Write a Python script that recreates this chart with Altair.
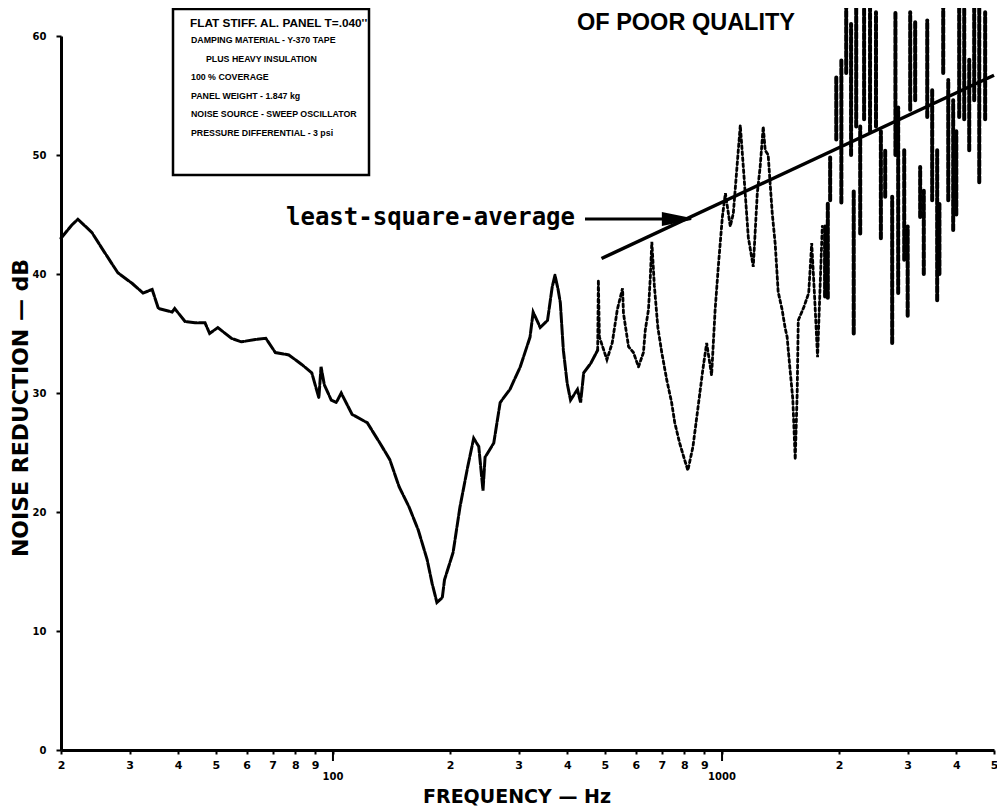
import altair as alt
import pandas as pd

# ---------------- data ----------------
# continuous part of the trace (Hz, dB)
freq = [20, 21.3, 22.1, 24.0, 25.9, 28.0, 30.5, 32.5, 34.3, 35.6, 38.6, 39.2, 41.7, 44.2,
        46.9, 48.2, 50.6, 54.8, 58.1, 63.2, 67.2, 71.1, 77.0, 83.1, 88.2, 92.0, 93.2, 95.0,
        99.0, 102, 105, 112, 122.5, 132, 140, 148, 157, 165.6, 174.6, 179.8, 185, 191,
        193.5, 203.6, 212, 222, 230, 237, 243, 246, 259, 269, 285, 303, 321, 327, 341, 356,
        366, 372, 379, 384, 391, 400, 408, 425, 433, 441, 460, 479, 481, 484, 506, 522, 538,
        555, 558, 575, 592, 610, 628, 635, 647, 654, 660, 670, 684, 700, 721, 742, 756, 778,
        801, 817, 842, 866, 892, 913, 940, 960, 978, 1002, 1020, 1050, 1069, 1114, 1140,
        1168, 1203, 1232, 1253, 1276, 1291, 1314, 1330, 1346, 1370, 1394, 1427, 1452, 1470,
        1495, 1520, 1542, 1560, 1570, 1622, 1670, 1700, 1730, 1760, 1790, 1810]
noise_db = [43.0, 44.1, 44.6, 43.5, 41.8, 40.1, 39.2, 38.4, 38.7, 37.1, 36.8, 37.1, 36.0, 35.9,
            35.9, 35.0, 35.5, 34.6, 34.3, 34.5, 34.6, 33.4, 33.2, 32.4, 31.7, 29.6, 32.2, 30.7,
            29.4, 29.2, 30.0, 28.2, 27.5, 25.8, 24.4, 22.1, 20.4, 18.5, 16.0, 14.0, 12.4, 12.8,
            14.3, 16.6, 20.4, 23.8, 26.2, 25.5, 21.8, 24.6, 25.8, 29.2, 30.3, 32.2, 34.7, 36.8,
            35.5, 36.1, 38.9, 39.9, 38.7, 37.6, 33.6, 30.8, 29.4, 30.3, 29.2, 31.7, 32.5, 33.6,
            39.5, 34.7, 32.8, 34.2, 37.0, 38.8, 36.7, 33.9, 33.4, 32.2, 33.4, 35.3, 37.0, 39.7,
            42.7, 39.0, 35.5, 33.4, 31.1, 29.2, 27.5, 25.8, 24.4, 23.5, 25.5, 28.6, 31.9, 34.2,
            31.5, 37.0, 40.6, 44.8, 46.8, 44.0, 45.1, 52.5, 48.0, 43.1, 40.6, 46.8, 49.0, 52.4,
            50.4, 50.0, 47.5, 45.1, 42.5, 38.5, 37.0, 35.5, 34.7, 32.0, 29.5, 24.4, 30.0, 36.1,
            37.2, 38.4, 42.6, 38.0, 33.0, 39.7, 44.0]

# fast-oscillating part above ~1.8 kHz: each streak is the range swept at one frequency
streak_freq = [1840, 1870, 1896, 1966, 2026, 2085, 2146, 2180, 2212, 2265, 2318, 2401, 2487,
               2560, 2626, 2737, 2790, 2836, 2939, 3000, 3045, 3136, 3230, 3300, 3368, 3468,
               3572, 3620, 3702, 3814, 3927, 4000, 4069, 4192, 4318, 4447, 4582, 4745]
streak_low = [38.1, 38.0, 46.2, 51.3, 46.0, 56.9, 50.0, 35.0, 52.4, 43.4, 53.0, 52.0, 52.4,
              43.0, 46.5, 34.2, 50.0, 38.4, 41.2, 36.5, 53.8, 54.6, 44.8, 40.0, 53.2, 46.2,
              37.8, 40.0, 56.9, 46.2, 43.7, 45.0, 53.2, 53.0, 50.4, 54.6, 47.7, 53.0]
streak_high = [44.0, 46.0, 49.8, 56.6, 58.0, 63.0, 61.0, 47.0, 63.0, 52.4, 63.0, 63.0, 62.0,
               52.0, 50.4, 46.5, 62.0, 54.0, 50.4, 44.0, 62.0, 61.3, 49.0, 47.0, 61.3, 55.5,
               50.4, 46.0, 63.0, 56.3, 54.6, 52.0, 63.0, 63.0, 58.0, 63.0, 63.0, 62.0]

lsq_freq = [490, 5000]
lsq_db = [41.3, 56.7]

x_ticks = [20, 30, 40, 50, 60, 70, 80, 90, 100, 200, 300, 400, 500, 600, 700, 800, 900,
           1000, 2000, 3000, 4000, 5000]
x_tick_labels = ["2", "3", "4", "5", "6", "7", "8", "9", "", "2", "3", "4", "5", "6", "7",
                 "8", "9", "", "2", "3", "4", "5"]
y_ticks = [0, 10, 20, 30, 40, 50, 60]
decade_ticks = [100, 1000]
decade_labels = ["100", "1000"]

box_title = "FLAT STIFF. AL. PANEL T=.040''"
box_lines = ["DAMPING MATERIAL - Y-370 TAPE", "PLUS HEAVY INSULATION", "100 % COVERAGE",
             "PANEL WEIGHT - 1.847 kg", "NOISE SOURCE - SWEEP OSCILLATOR",
             "PRESSURE DIFFERENTIAL - 3 psi"]
top_text = "OF POOR QUALITY"
arrow_text = "least-square-average"
x_title = "FREQUENCY — Hz"
y_title = "NOISE REDUCTION — dB"

# ---------------- layout ----------------
W, H = 933, 714
one = alt.Data(values=[{}])

label_expr = " : ".join(f"datum.value == {v} ? '{l}'" for v, l in zip(x_ticks, x_tick_labels)) + " : ''"

xs = alt.Scale(type="log", domain=[20, 5000], nice=False)
ys = alt.Scale(domain=[0, 60], nice=False)

xaxis = alt.Axis(values=x_ticks, labelExpr=label_expr, title=None, grid=False,
                 domainColor="black", domainWidth=3, tickColor="black", tickWidth=2,
                 tickSize=4, labelFont="DejaVu Sans", labelFontWeight="bold",
                 labelFontSize=11, labelColor="black", labelPadding=5, labelFlush=False,
                 labelOverlap=False)
yaxis = alt.Axis(values=y_ticks, title=None, grid=False, domainColor="black", domainWidth=3,
                 tickColor="black", tickWidth=2, tickSize=5, labelFont="DejaVu Sans",
                 labelFontWeight="bold", labelFontSize=10, labelColor="black",
                 labelPadding=10)

X = lambda f: alt.X(f, scale=xs, axis=xaxis)
Y = lambda f: alt.Y(f, scale=ys, axis=yaxis)

df = pd.DataFrame({"freq": freq, "db": noise_db})

curve_lo = alt.Chart(df).transform_filter("datum.freq <= 479").mark_line(
    color="black", strokeWidth=3, strokeDash=[10, 2], strokeCap="round"
).encode(x=X("freq:Q"), y=Y("db:Q"))

curve_hi = alt.Chart(df).transform_filter("datum.freq >= 479").mark_line(
    color="black", strokeWidth=2.8, strokeDash=[3, 3], strokeCap="round"
).encode(x=X("freq:Q"), y=Y("db:Q"))

streaks = alt.Chart(pd.DataFrame({"f": streak_freq, "lo": streak_low, "hi": streak_high})).mark_rule(
    color="black", strokeWidth=4, strokeDash=[6, 2], strokeCap="round"
).encode(x=X("f:Q"), y=Y("lo:Q"), y2="hi:Q")

lsq = alt.Chart(pd.DataFrame({"freq": lsq_freq, "db": lsq_db})).mark_line(
    color="black", strokeWidth=3.5
).encode(x=X("freq:Q"), y=Y("db:Q"))

dec = pd.DataFrame({"v": decade_ticks, "lab": decade_labels})
dec_ticks = alt.Chart(dec).mark_rule(color="black", strokeWidth=2).encode(
    x=X("v:Q"), y=alt.value(H), y2=alt.value(H + 11))
dec_labels = alt.Chart(dec).mark_text(
    font="DejaVu Sans", fontWeight="bold", fontSize=10, baseline="middle", color="black"
).encode(x=X("v:Q"), y=alt.value(H + 27), text="lab:N")


def txt(text, x, y, **kw):
    return alt.Chart(one).mark_text(text=text, color="black", **kw).encode(
        x=alt.value(x), y=alt.value(y))


layers = [curve_lo, curve_hi, streaks, lsq, dec_ticks, dec_labels]

# annotation box
layers.append(alt.Chart(one).mark_rect(fillOpacity=0, stroke="black", strokeWidth=2.5).encode(
    x=alt.value(112), x2=alt.value(308), y=alt.value(-27), y2=alt.value(139)))
layers.append(txt(box_title, 129, -13, font="Liberation Sans", fontWeight="bold",
                  fontSize=11.8, align="left", baseline="middle"))
box_x = [130, 145, 130, 130, 130, 130]
for i, line in enumerate(box_lines):
    layers.append(txt(line, box_x[i], 4 + 18.5 * i, font="Liberation Sans", fontWeight="bold",
                      fontSize=8.8, align="left", baseline="middle"))

# title fragment at the top
layers.append(txt(top_text, 516, -6, font="Liberation Sans", fontWeight="bold", fontSize=23.5,
                  align="left", baseline="alphabetic"))

# least-square annotation with arrow
layers.append(txt(arrow_text, 514, 182, font="DejaVu Sans Mono", fontWeight="bold",
                  fontSize=24, align="right", baseline="middle"))
layers.append(alt.Chart(one).mark_rule(color="black", strokeWidth=3).encode(
    x=alt.value(524), x2=alt.value(612), y=alt.value(183)))
layers.append(alt.Chart(one).mark_point(
    shape="M-1,-0.4L1,0L-1,0.4Z", filled=True, fill="black", stroke="black", size=800,
    opacity=1).encode(x=alt.value(616), y=alt.value(183)))

# axis titles
layers.append(txt(y_title, -40, 372, font="DejaVu Sans", fontWeight="bold", fontSize=22,
                  angle=270, align="center", baseline="middle"))
layers.append(txt(x_title, 456, 761, font="DejaVu Sans", fontWeight="bold", fontSize=19,
                  align="center", baseline="middle"))

chart = alt.layer(*layers).properties(
    width=W, height=H, background="white",
    padding={"left": 53, "top": 28, "right": 3, "bottom": 58},
    autosize=alt.AutoSizeParams(type="none"),
).configure_view(stroke=None)

chart.save("out.html", embed_options={"renderer": "svg", "actions": False})
